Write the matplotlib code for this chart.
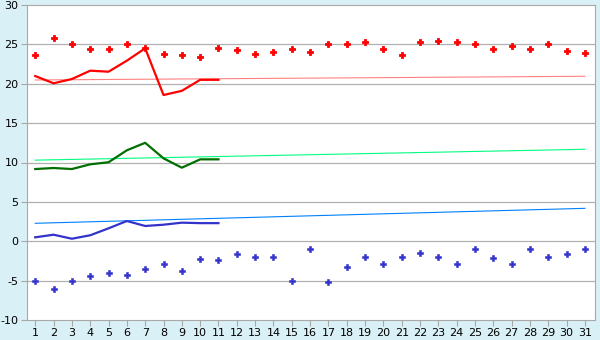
import numpy as np
import matplotlib
matplotlib.use("Agg")
import matplotlib.pyplot as plt

plt.rcParams['axes.unicode_minus'] = False

days = np.arange(1, 32)
days_cur = np.arange(1, 12)

# current month lines (days 1-11)
max_cur = [20.98, 20.06, 20.6, 21.66, 21.53, 22.93, 24.5, 18.57, 19.1, 20.5, 20.5]
mean_cur = [9.17, 9.3, 9.17, 9.77, 10.03, 11.55, 12.5, 10.53, 9.34, 10.4, 10.4]
min_cur = [0.5, 0.83, 0.32, 0.76, 1.64, 2.57, 1.94, 2.1, 2.36, 2.3, 2.3]

# record points
max_rec = [23.6, 25.8, 25.0, 24.4, 24.4, 25.0, 24.5, 23.8, 23.6, 23.4, 24.5,
           24.25, 23.75, 24.0, 24.4, 24.0, 25.1, 25.0, 25.25, 24.4, 23.6,
           25.25, 25.4, 25.25, 25.0, 24.4, 24.75, 24.4, 25.1, 24.1, 23.9]
min_rec = [-5.0, -6.0, -5.0, -4.45, -4.07, -4.33, -3.56, -2.93, -3.82, -2.3,
           -2.42, -1.66, -2.04, -2.04, -5.0, -1.03, -5.2, -3.3, -2.04, -2.93,
           -2.04, -1.53, -2.04, -2.93, -1.03, -2.17, -2.93, -1.03, -2.04,
           -1.66, -1.03]

# normals (start, end)
max_norm = [20.48, 20.95]
mean_norm = [10.3, 11.68]
min_norm = [2.28, 4.18]

bg = '#d9f0f6'
fig = plt.figure(figsize=(6, 3.4), dpi=100, facecolor=bg)
ax = fig.add_axes([27/600, 20/340, 568/600, 315/340])
ax.set_facecolor('white')

for y in range(-5, 30, 5):
    ax.axhline(y, color='#b0b0b0', lw=0.9, zorder=0)

ax.plot([1, 31], max_norm, color='#ff8080', lw=0.8)
ax.plot([1, 31], mean_norm, color='#00ff80', lw=0.8)
ax.plot([1, 31], min_norm, color='#0080ff', lw=0.8)

ax.plot(days_cur, max_cur, color='#ff0000', lw=1.6)
ax.plot(days_cur, mean_cur, color='#006e00', lw=1.6)
ax.plot(days_cur, min_cur, color='#3333cc', lw=1.6)

ax.plot(days, max_rec, 'P', color='#ff0000', ms=5, mew=0.6, ls='none')
ax.plot(days, min_rec, 'P', color='#3333cc', ms=4.5, mew=0.4, ls='none')

ax.set_xlim(0.55, 31.55)
ax.set_ylim(-10, 30)
ax.set_xticks(days)
ax.set_yticks(range(-10, 31, 5))
for s in ax.spines.values():
    s.set_color('#a8a8a8')
ax.tick_params(colors='#a8a8a8', labelcolor='#000000', labelsize=8, length=4, pad=2)

fig.savefig('out.png', dpi=100, facecolor=bg)
